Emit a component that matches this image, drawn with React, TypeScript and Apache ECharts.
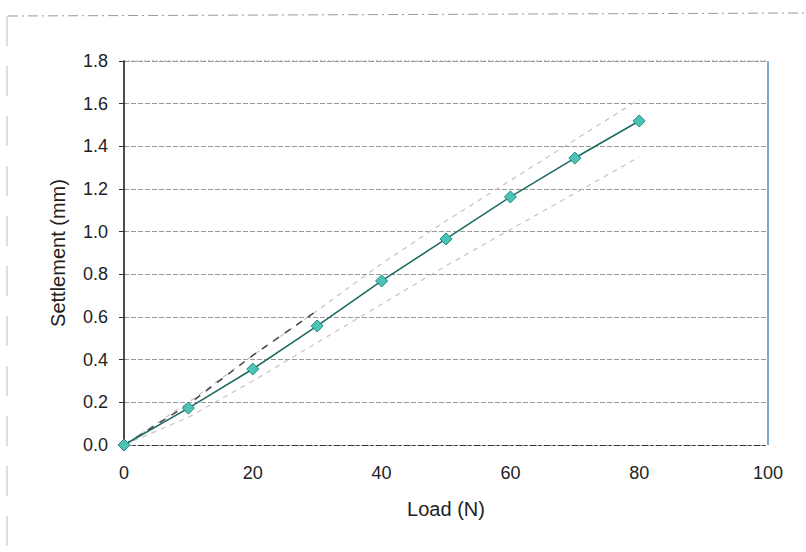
import React, { useEffect, useRef } from "react";
import * as echarts from "echarts";

const loads = [0, 10, 20, 30, 40, 50, 60, 70, 80];
const settlement = [0, 0.173, 0.356, 0.558, 0.769, 0.966, 1.163, 1.345, 1.519];
const upperBound = [0, 0.2, 0.42, 0.63, 0.85, 1.05, 1.24, 1.43, 1.62];
const lowerBound = [0, 0.13, 0.3, 0.48, 0.66, 0.84, 1.01, 1.18, 1.35];
const earlyLoads = [0, 10, 20, 30];
const earlyTrend = [0, 0.19, 0.42, 0.63];

const pairs = (xs: number[], ys: number[]) => xs.map((x, i) => [x, ys[i]]);

export default function App() {
  const ref = useRef<HTMLDivElement>(null);
  useEffect(() => {
    if (!ref.current) return;
    const chart = echarts.init(ref.current, null, { renderer: "svg" });
    const font = "'Liberation Sans', Arial, sans-serif";
    chart.setOption({
      animation: false,
      backgroundColor: "#ffffff",
      grid: { left: 124, right: 38, top: 61, bottom: 107 },
      xAxis: {
        type: "value",
        min: 0,
        max: 100,
        interval: 20,
        name: "Load (N)",
        nameLocation: "middle",
        nameGap: 54,
        nameTextStyle: { color: "#222", fontSize: 20, fontFamily: font },
        axisLine: { show: true, onZero: false, lineStyle: { color: "#333", width: 1.2, type: [6, 3, 2, 3] } },
        axisTick: { show: false },
        axisLabel: { color: "#222", fontSize: 18, fontFamily: font, margin: 19 },
        splitLine: { show: false },
      },
      yAxis: {
        type: "value",
        min: 0,
        max: 1.8,
        interval: 0.2,
        name: "Settlement (mm)",
        nameLocation: "middle",
        nameGap: 56,
        nameTextStyle: { color: "#222", fontSize: 20, fontFamily: font },
        axisLine: { show: true, lineStyle: { color: "#111", width: 1.5 } },
        axisTick: { show: true, length: 5, inside: false, lineStyle: { color: "#333" } },
        axisLabel: {
          color: "#222",
          fontSize: 18,
          fontFamily: font,
          margin: 16,
          formatter: (v: number) => v.toFixed(1),
        },
        splitLine: { show: true, lineStyle: { color: "#999", width: 1, type: [5, 2] } },
      },
      series: [
        {
          type: "line",
          data: pairs(loads, upperBound),
          showSymbol: false,
          symbol: "none",
          lineStyle: { color: "#c4c4c4", width: 1.2, type: [5, 5] },
          z: 1,
        },
        {
          type: "line",
          data: pairs(loads, lowerBound),
          showSymbol: false,
          symbol: "none",
          lineStyle: { color: "#c4c4c4", width: 1.2, type: [5, 5] },
          z: 1,
        },
        {
          type: "line",
          data: pairs(earlyLoads, earlyTrend),
          showSymbol: false,
          symbol: "none",
          lineStyle: { color: "#444", width: 1.5, type: [7, 7] },
          z: 1,
        },
        {
          type: "line",
          data: pairs(loads, settlement),
          symbol: "diamond",
          symbolSize: 12,
          lineStyle: { color: "#1d6b63", width: 1.6 },
          itemStyle: { color: "#4cc3b4", borderColor: "#1e8a80", borderWidth: 1 },
          z: 3,
        },
      ],
      graphic: [
        { type: "line", shape: { x1: 124, y1: 61, x2: 768, y2: 61 }, style: { stroke: "#999", lineWidth: 1, lineDash: [2, 2] } },
        { type: "line", shape: { x1: 768, y1: 61, x2: 768, y2: 445 }, style: { stroke: "#2a6fa8", lineWidth: 1.2 } },
        { type: "line", shape: { x1: 8, y1: 16, x2: 806, y2: 13 }, style: { stroke: "#999", lineWidth: 1, lineDash: [10, 4, 2, 4] } },
        { type: "line", shape: { x1: 7, y1: 16, x2: 7, y2: 552 }, style: { stroke: "#bbb", lineWidth: 1, lineDash: [30, 20] } },
      ],
    });
    return () => chart.dispose();
  }, []);
  return <div ref={ref} style={{ width: 806, height: 552, position: "absolute", left: 0, top: 0 }} />;
}
